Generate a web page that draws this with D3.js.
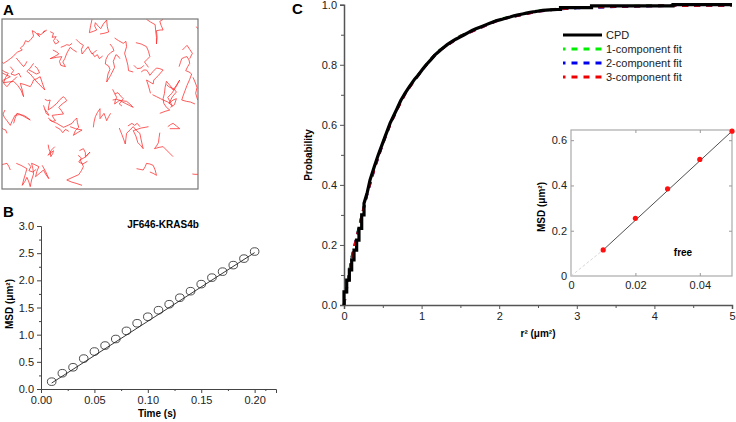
<!DOCTYPE html>
<html><head><meta charset="utf-8">
<script src="https://cdn.jsdelivr.net/npm/d3@7"></script>
<style>
body{margin:0;background:#fff}
text{font-family:"Liberation Sans",Arial,Helvetica,sans-serif}
</style></head><body>
<svg id="fig" width="736" height="422"></svg>
<script>
// ---------- Panel A: trajectories (arbitrary units) ----------
const trajectories = [
 [[140,90],[128,98],[135,92],[122,104],[112,100],[118,110],[104,96],[96,92],[100,108],[92,118],[84,126],[76,122],[70,136],[60,144],[66,150],[52,156],[45,162],[38,170],[30,176],[22,182],[10,190],[4,186]],
 [[150,95],[160,100],[156,112],[168,110],[160,122],[166,132],[176,126],[170,118]],
 [[158,150],[170,156],[176,162],[162,170],[150,176],[168,172],[185,170],[178,184],[182,196],[196,200],[188,186],[194,176],[200,160],[210,142],[220,150],[230,156]],
 [[182,142],[192,138],[200,134],[208,136],[216,130]],
 [[228,118],[238,128],[250,136],[244,148],[246,162],[256,150],[264,140],[270,152],[276,162],[284,156],[290,150]],
 [[276,58],[272,76],[268,98],[280,94],[290,90],[284,78],[286,68],[296,80],[302,86],[310,72],[320,60],[322,80],[326,96],[312,100],[300,102]],
 [[330,132],[338,142],[342,152],[332,158],[324,166],[318,178],[316,192],[326,198],[330,208],[324,222],[320,246],[332,226],[344,202],[340,184],[348,164],[354,168],[360,176]],
 [[344,114],[356,122],[370,130],[378,124],[380,140],[374,160],[380,180],[384,196],[386,212],[400,216]],
 [[408,128],[424,132],[440,140],[446,154],[450,170],[442,178],[434,186],[440,194],[446,202]],
 [[440,58],[452,66],[466,74],[468,96],[470,112],[470,132],[472,112],[470,92],[482,90],[490,90],[484,76],[480,64],[490,58]],
 [[424,216],[432,210],[440,210],[446,218],[450,226],[460,214],[470,204],[480,206],[490,210],[476,226],[462,240],[460,252],[450,246],[440,240],[446,258],[452,280]],
 [[538,200],[542,188],[546,176],[554,172],[562,170],[568,180],[570,190],[564,200],[558,212],[568,216],[576,222],[570,238],[562,256],[556,272],[550,288],[546,300],[560,304],[572,306],[586,312]],
 [[458,284],[470,290],[482,296],[490,300],[504,306],[518,318],[510,304],[504,292],[516,280],[528,262],[540,240],[530,256],[520,270],[512,258],[500,244],[496,262],[494,280],[490,296],[492,310],[500,322],[510,330],[496,334],[480,340]],
 [[500,254],[510,262],[522,266],[530,276],[518,290],[508,310],[520,300],[530,296],[524,314],[512,322]],
 [[5,210],[14,216],[24,220],[16,232],[10,248],[24,246],[40,244],[52,256],[62,270],[70,290],[66,270],[60,250],[74,254],[90,260],[96,250],[100,240],[110,236],[120,230],[126,248],[134,270],[122,258],[110,246],[100,234],[90,222],[80,214],[90,204],[100,190]],
 [[4,218],[16,224],[30,230],[18,236],[6,242],[12,252],[20,260],[30,248],[40,240],[50,230]],
 [[30,200],[40,212],[32,222],[44,226],[56,220],[62,232]],
 [[48,174],[58,186],[70,200],[76,192],[80,184]],
 [[86,210],[98,216],[108,222],[118,218],[112,206],[104,198]],
 [[134,298],[142,302],[150,300],[146,316],[144,330],[156,322],[170,310],[180,298],[190,290],[196,296],[200,302],[186,312],[176,322],[184,332],[190,342],[172,344],[156,346],[160,354],[166,362],[156,364],[148,360]],
 [[144,354],[156,364],[170,370],[180,376],[190,382],[204,376],[216,370],[222,362],[230,354],[232,368],[236,382],[226,392],[220,406],[232,398],[246,390],[226,386],[210,380]],
 [[166,380],[180,388],[188,398],[196,388],[206,394]],
 [[280,382],[282,366],[286,350],[292,338],[300,326],[300,342],[300,356],[306,348],[312,340],[316,350],[320,362],[326,350],[332,340]],
 [[338,268],[344,280],[350,292],[346,302],[344,312],[352,306],[360,300],[368,306],[376,310],[388,316],[400,322],[390,312],[380,304],[362,302],[350,298],[338,300]],
 [[344,282],[354,278],[362,288],[370,296],[358,312],[366,318]],
 [[358,384],[366,404],[372,420],[376,432],[378,416],[380,400],[390,390],[400,380],[410,392],[420,400],[424,420],[430,446],[422,436],[414,428],[408,408],[400,392],[412,388],[424,384],[436,382],[446,380]],
 [[384,378],[396,370],[404,376],[412,370],[420,380]],
 [[504,380],[512,374],[520,370],[530,378],[540,386],[526,386],[510,386]],
 [[480,398],[478,412],[476,428],[470,438],[464,446],[478,442],[490,440],[500,450],[510,460],[520,470]],
 [[14,330],[8,342],[12,352],[20,362],[30,376],[36,362],[44,346],[56,344],[70,346],[80,352],[90,360],[72,350],[58,342],[50,340],[44,356],[40,370]],
 [[4,384],[10,388],[16,390],[20,400]],
 [[144,434],[146,446],[150,456],[152,470],[158,460],[160,452],[150,460],[144,466],[154,450],[164,440]],
 [[238,452],[250,446],[256,458],[256,470],[264,462],[270,456],[258,470],[240,480],[246,490],[250,500],[244,512],[236,524],[222,530],[200,540],[214,546],[228,550],[246,556]],
 [[234,466],[244,474],[236,486],[248,492],[262,484]],
 [[48,490],[62,496],[80,506],[76,520],[70,540],[66,556],[74,544],[80,532],[86,546],[90,560],[94,540],[100,522],[98,506],[94,490],[104,494],[116,500],[110,514],[106,530],[118,520],[130,510],[136,522],[146,536],[136,514],[126,496]],
 [[84,490],[92,500],[86,512],[98,516],[108,508]],
 [[4,494],[12,492],[20,490],[26,500],[30,510]],
 [[410,506],[420,508],[430,510],[436,500],[440,490],[450,492],[460,496],[466,510],[470,526],[460,520],[450,516]],
 [[578,522],[586,523],[596,523]],
 [[590,80],[594,86]],
 [[134,328],[142,338],[146,346],[138,340],[130,316]],
 [[276,158],[284,170],[292,164],[298,176],[308,168]],
 [[402,196],[412,206],[424,204],[432,196]],
 [[548,150],[556,142],[562,136],[570,148],[578,160],[570,176]],
 [[580,232],[586,246],[592,262],[588,280],[594,300]]
];

// ---------- Panel B: MSD vs time ----------
const timeB = [0.01,0.02,0.03,0.04,0.05,0.06,0.07,0.08,0.09,0.10,0.11,0.12,0.13,0.14,0.15,0.16,0.17,0.18,0.19,0.20];
const msdB  = [0.135,0.29,0.40,0.56,0.69,0.80,0.92,1.07,1.21,1.33,1.45,1.56,1.68,1.80,1.93,2.05,2.16,2.28,2.40,2.53];
const fitBTime = [0.01,0.20];
const fitBMsd  = [0.11,2.51];
const xTicksB = [0,0.05,0.10,0.15,0.20];
const yTicksB = [0,0.5,1.0,1.5,2.0,2.5,3.0];

// ---------- Panel C: cumulative probability distribution ----------
const r2 = [0,0,0.035,0.035,0.069,0.069,0.099,0.099,0.129,0.129,0.163,0.163,0.193,0.193,0.228,0.228,0.258,0.258,0.30,0.335,0.39,0.442,0.485,0.528,0.593,0.64,0.68,0.73,0.786,0.83,0.87,0.91,0.958,1.01,1.06,1.12,1.173,1.23,1.28,1.33,1.388,1.44,1.50,1.55,1.60,1.65,1.70,1.76,1.817,1.87,1.92,1.97,2.03,2.08,2.14,2.19,2.246,2.30,2.35,2.40,2.46,2.51,2.56,2.65,2.75,2.79,2.79,3.0,3.19,3.19,4.24,4.24,5.0];
const cpd = [0,0.044,0.044,0.083,0.083,0.117,0.117,0.15,0.15,0.183,0.183,0.216,0.216,0.255,0.255,0.30,0.30,0.339,0.375,0.416,0.46,0.50,0.53,0.56,0.605,0.63,0.652,0.68,0.705,0.722,0.737,0.752,0.766,0.784,0.80,0.817,0.833,0.846,0.857,0.867,0.877,0.885,0.893,0.90,0.907,0.914,0.92,0.926,0.932,0.937,0.942,0.947,0.951,0.955,0.959,0.963,0.966,0.969,0.972,0.975,0.977,0.979,0.981,0.983,0.984,0.984,0.990,0.990,0.990,0.996,0.996,1.0,1.0];
const r2Fit = [0,0.1,0.2,0.3,0.4,0.5,0.6,0.7,0.8,1.0,1.2,1.5,2.0,2.5,2.75,3.0,3.5,4.0,4.5,5.0];
const fit1 = [0,0.160,0.268,0.373,0.462,0.540,0.607,0.662,0.711,0.782,0.843,0.896,0.951,0.979,0.986,0.990,0.994,0.997,0.997,0.998];
const fit2 = [0,0.158,0.266,0.371,0.460,0.537,0.605,0.660,0.710,0.781,0.842,0.895,0.950,0.978,0.985,0.989,0.993,0.996,0.997,0.998];
const fit3 = [0,0.156,0.264,0.372,0.461,0.538,0.604,0.659,0.709,0.781,0.842,0.895,0.950,0.978,0.985,0.990,0.994,0.996,0.997,0.998];
const xTicksC = [0,1,2,3,4,5];
const yTicksC = [0,0.2,0.4,0.6,0.8,1.0];
const legendC = ["CPD","1-component fit","2-component fit","3-component fit"];
const legendColors = ["#000","#00ee00","#0000ee","#ee0000"];

// ---------- Inset ----------
const insetTime = [0.01,0.02,0.03,0.04,0.05];
const insetMsd  = [0.115,0.255,0.385,0.515,0.64];
const insetXTicks = [0,0.02,0.04];
const insetYTicks = [0,0.2,0.4,0.6];

const svg = d3.select("#fig");
const FONT = 11;

// ================= Panel A =================
svg.append("text").attr("x",3).attr("y",15).attr("font-size",15).attr("font-weight","bold").text("A");
const xA = d3.scaleLinear().domain([5,595]).range([2,198]);
const yA = d3.scaleLinear().domain([57,567]).range([19,189]);
const gA = svg.append("g");
gA.append("clipPath").attr("id","clipA").append("rect").attr("x",2).attr("y",19).attr("width",196).attr("height",170);
const lineA = d3.line().x(d=>xA(d[0])).y(d=>yA(d[1]));
gA.append("g").attr("clip-path","url(#clipA)").selectAll("path").data(trajectories).join("path")
  .attr("d",lineA).attr("fill","none").attr("stroke","#ff2a2a").attr("stroke-opacity",0.85).attr("stroke-width",0.9).attr("stroke-linejoin","round");
gA.append("rect").attr("x",2).attr("y",19).attr("width",196).attr("height",170).attr("fill","none").attr("stroke","#777").attr("stroke-width",1.2);

// ================= Panel B =================
svg.append("text").attr("x",3).attr("y",217).attr("font-size",15).attr("font-weight","bold").text("B");
const xB = d3.scaleLinear().domain([0,0.22]).range([41,276]);
const yB = d3.scaleLinear().domain([0,3]).range([389,226]);
const gB = svg.append("g");
const axBx = gB.append("g").attr("transform","translate(0,389)")
  .call(d3.axisBottom(xB).tickValues(xTicksB).tickFormat(d3.format(".2f")).tickSize(4).tickPadding(3));
const axBxm = gB.append("g").attr("transform","translate(0,389)")
  .call(d3.axisBottom(xB).tickValues([0.025,0.075,0.125,0.175,0.21]).tickFormat("").tickSize(2));
const axBy = gB.append("g").attr("transform","translate(41,0)")
  .call(d3.axisLeft(yB).tickValues(yTicksB).tickFormat(d3.format(".1f")).tickSize(4).tickPadding(3));
const axBym = gB.append("g").attr("transform","translate(41,0)")
  .call(d3.axisLeft(yB).tickValues([0.25,0.75,1.25,1.75,2.25,2.75]).tickFormat("").tickSize(2));
[axBx,axBxm,axBy,axBym].forEach(a=>{a.selectAll("path,line").attr("stroke","#444");a.selectAll("text").attr("font-size",FONT).attr("fill","#222");});
axBxm.select(".domain").remove(); axBym.select(".domain").remove();
gB.append("path").attr("d",d3.line().x((d,i)=>xB(d)).y((d,i)=>yB(fitBMsd[i]))(fitBTime))
  .attr("stroke","#222").attr("stroke-width",0.9).attr("fill","none");
gB.selectAll("ellipse").data(timeB).join("ellipse")
  .attr("cx",d=>xB(d)).attr("cy",(d,i)=>yB(msdB[i])).attr("rx",4.3).attr("ry",3.8)
  .attr("fill","none").attr("stroke","#222").attr("stroke-width",0.8);
gB.append("text").attr("x",163).attr("y",228).attr("text-anchor","middle").attr("font-size",10).attr("font-weight","bold").text("JF646-KRAS4b");
gB.append("text").attr("x",157).attr("y",417).attr("text-anchor","middle").attr("font-size",10).attr("font-weight","bold").text("Time (s)");
gB.append("text").attr("transform","translate(13,304) rotate(-90)").attr("text-anchor","middle").attr("font-size",10).attr("font-weight","bold").text("MSD (μm²)");

// ================= Panel C =================
svg.append("text").attr("x",292).attr("y",14).attr("font-size",15).attr("font-weight","bold").text("C");
const xC = d3.scaleLinear().domain([0,5]).range([344,732]);
const yC = d3.scaleLinear().domain([0,1]).range([305,4.7]);
const gC = svg.append("g");
const axCx = gC.append("g").attr("transform","translate(0,305)")
  .call(d3.axisBottom(xC).tickValues(xTicksC).tickFormat(d3.format("d")).tickSize(4).tickPadding(3));
const axCxm = gC.append("g").attr("transform","translate(0,305)")
  .call(d3.axisBottom(xC).tickValues([0.5,1.5,2.5,3.5,4.5]).tickFormat("").tickSize(3));
const axCy = gC.append("g").attr("transform","translate(344,0)")
  .call(d3.axisLeft(yC).tickValues(yTicksC).tickFormat(d3.format(".1f")).tickSize(4).tickPadding(3));
const axCym = gC.append("g").attr("transform","translate(344,0)")
  .call(d3.axisLeft(yC).tickValues([0.1,0.3,0.5,0.7,0.9]).tickFormat("").tickSize(3));
[axCx,axCxm,axCy,axCym].forEach(a=>{a.selectAll("path,line").attr("stroke","#555");a.selectAll("text").attr("font-size",FONT).attr("fill","#222");});
axCxm.select(".domain").remove(); axCym.select(".domain").remove();
axCx.select(".domain").attr("stroke-width",1.5); axCy.select(".domain").attr("stroke-width",1.5);

[[fit1,legendColors[1]],[fit2,legendColors[2]],[fit3,legendColors[3]]].forEach(([arr,col])=>{
  gC.append("path").attr("d",d3.line().x(d=>xC(d)).y((d,i)=>yC(arr[i]))(r2Fit))
    .attr("fill","none").attr("stroke",col).attr("stroke-width",2.6).attr("stroke-dasharray","6,6");
});
gC.append("path").attr("d",d3.line().x(d=>xC(d)).y((d,i)=>yC(cpd[i])).curve(d3.curveLinear)(r2))
  .attr("fill","none").attr("stroke","#000").attr("stroke-width",3.2).attr("stroke-linejoin","miter");

gC.append("text").attr("transform","translate(312,155) rotate(-90)").attr("text-anchor","middle").attr("font-size",10).attr("font-weight","bold").text("Probability");
gC.append("text").attr("x",538).attr("y",337).attr("text-anchor","middle").attr("font-size",10).attr("font-weight","bold").text("r² (μm²)");

// legend
const legY = [35,49,63,77];
legendC.forEach((t,i)=>{
  const ln = gC.append("line").attr("x1",563).attr("x2",602).attr("y1",legY[i]).attr("y2",legY[i])
    .attr("stroke",legendColors[i]).attr("stroke-width",3);
  if(i>0) ln.attr("stroke-dasharray","6,6").attr("stroke-dashoffset",3.5);
  gC.append("text").attr("x",606).attr("y",legY[i]+4).attr("font-size",FONT).attr("fill","#222").text(t);
});

// ================= Inset =================
const xI = d3.scaleLinear().domain([0,0.05]).range([571,732]);
const yI = d3.scaleLinear().domain([0,0.645]).range([276,130]);
const gI = svg.append("g");
gI.append("rect").attr("x",571).attr("y",130).attr("width",161).attr("height",146).attr("fill","#fff").attr("stroke","#aaa").attr("stroke-width",1.2);
const iax = [
  gI.append("g").attr("transform","translate(0,276)").call(d3.axisBottom(xI).tickValues(insetXTicks).tickFormat(d=>d===0?"0":d3.format(".2f")(d)).tickSize(0).tickPadding(5)),
  gI.append("g").attr("transform","translate(571,0)").call(d3.axisLeft(yI).tickValues(insetYTicks).tickFormat(d=>d===0?"0":d3.format(".1f")(d)).tickSize(0).tickPadding(4)),
  gI.append("g").attr("transform","translate(0,276)").call(d3.axisTop(xI).tickValues([0.02,0.04]).tickFormat("").tickSize(3)),
  gI.append("g").attr("transform","translate(0,130)").call(d3.axisBottom(xI).tickValues([0.02,0.04]).tickFormat("").tickSize(3)),
  gI.append("g").attr("transform","translate(571,0)").call(d3.axisRight(yI).tickValues([0.2,0.4,0.6]).tickFormat("").tickSize(3)),
  gI.append("g").attr("transform","translate(732,0)").call(d3.axisLeft(yI).tickValues([0.2,0.4,0.6]).tickFormat("").tickSize(3))
];
iax.forEach(a=>{a.select(".domain").remove();a.selectAll("line").attr("stroke","#999");a.selectAll("text").attr("font-size",FONT).attr("fill","#222");});
gI.append("line").attr("x1",xI(0)).attr("y1",yI(0)).attr("x2",xI(insetTime[0])).attr("y2",yI(insetMsd[0]))
  .attr("stroke","#ccc").attr("stroke-width",0.8).attr("stroke-dasharray","3,2");
gI.append("line").attr("x1",xI(insetTime[0])).attr("y1",yI(insetMsd[0])).attr("x2",xI(insetTime[4])).attr("y2",yI(insetMsd[4]))
  .attr("stroke","#222").attr("stroke-width",0.8);
gI.selectAll("circle").data(insetTime).join("circle")
  .attr("cx",d=>xI(d)).attr("cy",(d,i)=>yI(insetMsd[i])).attr("r",2.6).attr("fill","#ff1010");
gI.append("text").attr("transform","translate(545,207) rotate(-90)").attr("text-anchor","middle").attr("font-size",10).attr("font-weight","bold").text("MSD (μm²)");
gI.append("text").attr("x",683).attr("y",256).attr("text-anchor","middle").attr("font-size",10).attr("font-weight","bold").text("free");
</script></body></html>
